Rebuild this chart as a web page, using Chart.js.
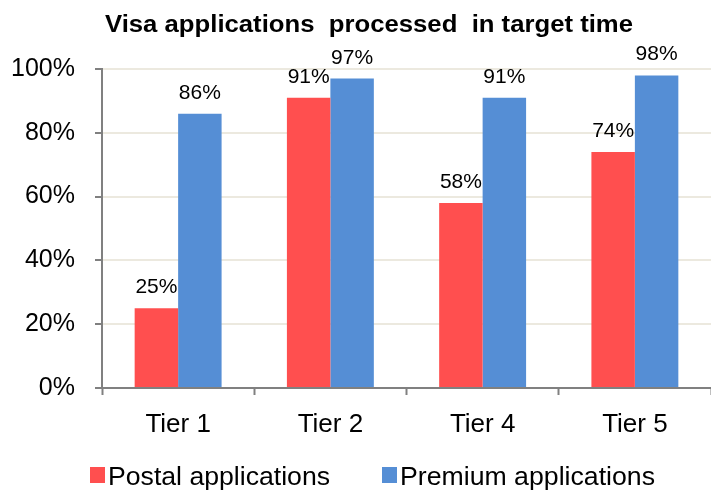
<!DOCTYPE html>
<html>
<head>
<meta charset="utf-8">
<script src="https://cdn.jsdelivr.net/npm/chart.js@4"></script>
<style>
  html, body { margin: 0; padding: 0; background: #fff; }
  #wrap { width: 711px; height: 490px; }
</style>
</head>
<body>
<div id="wrap"><canvas id="visaChart"></canvas></div>
<script>
const categories = ['Tier 1', 'Tier 2', 'Tier 4', 'Tier 5']
const postalValues = [25, 91, 58, 74]
const premiumValues = [86, 97, 91, 98]
const yTicks = [0, 20, 40, 60, 80, 100]

const FONT = '"Liberation Sans", Arial, sans-serif'
const AXIS_GREY = '#808080'
const GRID_BEIGE = '#ece9df'
const RED = '#ff4f4f'
const BLUE = '#558ed5'

// the original text is a bit wider than Liberation Sans, so stretch it to a width
function drawWide(c, text, x, y, width) {
    const natural = c.measureText(text).width
    c.save()
    c.translate(x, y)
    c.scale(width / natural, 1)
    c.fillText(text, 0, 0)
    c.restore()
}

const titlePlugin = {
    id: 'titleText',
    afterDraw(chart) {
        const c = chart.ctx
        c.save()
        c.font = 'bold 23px ' + FONT
        c.fillStyle = '#000'
        c.textAlign = 'left'
        c.textBaseline = 'alphabetic'
        drawWide(c, 'Visa applications  processed  in target time', 105, 32, 528)
        c.restore()
    }
}

// hand drawn legend: small gap between swatch and text, wide gap between items
const legendPlugin = {
    id: 'legendBoxes',
    afterDraw(chart) {
        const c = chart.ctx
        const items = [
            { color: RED, x: 90, width: 222 },
            { color: BLUE, x: 382, width: 255 }
        ]
        c.save()
        c.font = '25px ' + FONT
        c.textAlign = 'left'
        c.textBaseline = 'alphabetic'
        items.forEach((it, i) => {
            c.fillStyle = it.color
            c.fillRect(it.x, 467, 15, 16)
            c.fillStyle = '#000'
            drawWide(c, chart.data.datasets[i].label, it.x + 18, 485, it.width)
        })
        c.restore()
    }
}

// value labels above every bar
const valueLabels = {
    id: 'valueLabels',
    afterDatasetsDraw(chart) {
        const c = chart.ctx
        c.save()
        c.font = '21px ' + FONT
        c.fillStyle = '#000'
        c.textAlign = 'center'
        c.textBaseline = 'alphabetic'
        chart.data.datasets.forEach((ds, i) => {
            chart.getDatasetMeta(i).data.forEach((bar, j) => {
                c.fillText(ds.data[j] + '%', bar.x, bar.y - 15)
            })
        })
        c.restore()
    }
}

new Chart(document.getElementById('visaChart').getContext('2d'), {
    type: 'bar',
    data: {
        labels: categories,
        datasets: [{
            label: 'Postal applications',
            data: postalValues,
            backgroundColor: RED
        }, {
            label: 'Premium applications',
            data: premiumValues,
            backgroundColor: BLUE
        }]
    },
    options: {
        responsive: true,
        maintainAspectRatio: false,
        animation: false,
        devicePixelRatio: 1,
        layout: {
            padding: { top: 69, right: -7, left: 0, bottom: 50 }
        },
        datasets: {
            bar: { categoryPercentage: 0.571, barPercentage: 1 }
        },
        scales: {
            x: {
                offset: true,
                grid: {
                    offset: true,
                    drawOnChartArea: false,
                    tickLength: 7,
                    tickColor: AXIS_GREY,
                    tickWidth: 2
                },
                border: { color: AXIS_GREY, width: 2 },
                ticks: {
                    color: '#000',
                    padding: 14,
                    font: { family: FONT, size: 26 }
                },
                afterFit(axis) { axis.height = 52 }
            },
            y: {
                min: 0,
                max: 100,
                afterBuildTicks(axis) {
                    axis.ticks = yTicks.map(v => ({ value: v }))
                },
                grid: {
                    color: GRID_BEIGE,
                    lineWidth: 2,
                    tickLength: 7,
                    tickColor: AXIS_GREY,
                    tickWidth: 2
                },
                border: { color: AXIS_GREY, width: 2 },
                ticks: {
                    color: '#000',
                    padding: 20,
                    font: { family: FONT, size: 25 },
                    callback: v => v + '%'
                },
                afterFit(axis) { axis.width = 102 }
            }
        },
        plugins: {
            title: { display: false },
            tooltip: { enabled: false },
            legend: { display: false }
        }
    },
    plugins: [titlePlugin, legendPlugin, valueLabels]
})
</script>
</body>
</html>
